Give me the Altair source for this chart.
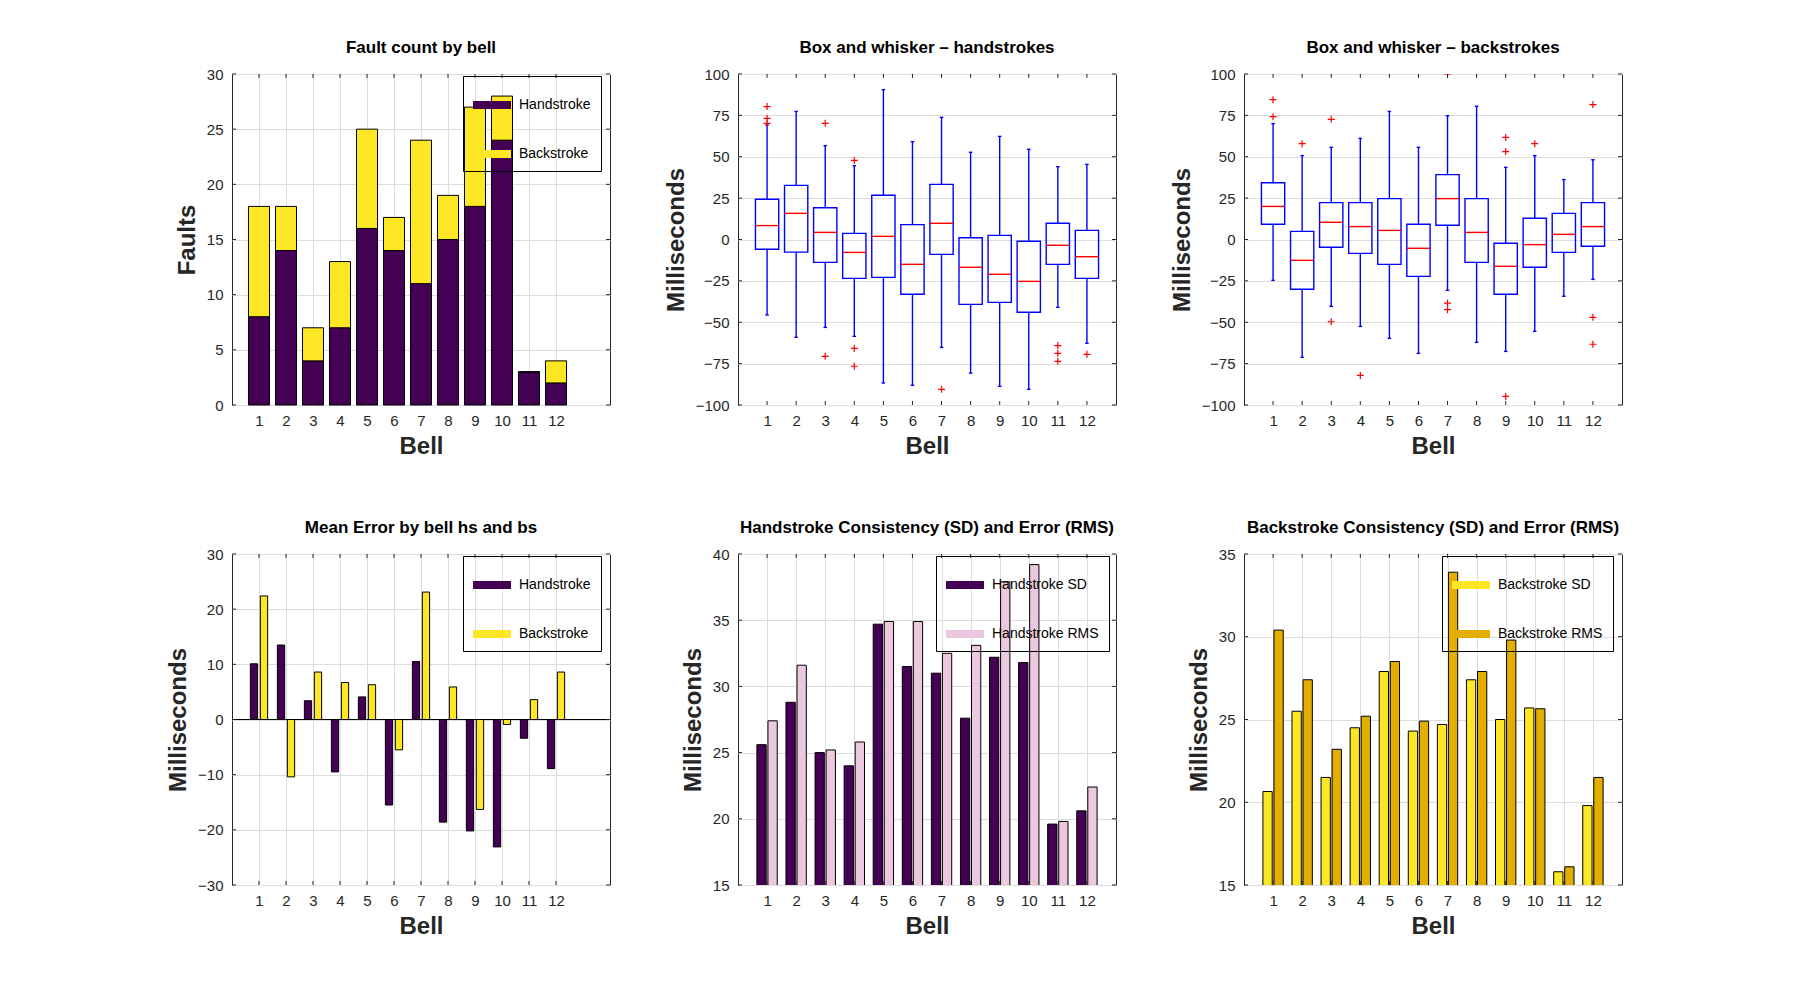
import altair as alt
import pandas as pd

FONT = "Liberation Sans"
AX = "#262626"
W, H = 378, 331
TL = 4

bells = list(range(1, 13))

# fault count (stacked)
fault_hs = [8, 14, 4, 7, 16, 14, 11, 15, 18, 24, 3, 2]
fault_bs = [10, 4, 3, 6, 9, 3, 13, 4, 9, 4, 0, 2]

# box and whisker stats, handstrokes
hs_wlo = [-45.6, -59.1, -53.1, -58.5, -86.7, -88.1, -65.2, -80.7, -88.7, -90.5, -41.0, -62.7]
hs_q1 = [-5.9, -7.6, -13.8, -23.5, -22.9, -33.1, -9.0, -39.2, -38.0, -44.0, -15.0, -23.5]
hs_med = [8.4, 15.8, 4.3, -7.8, 1.9, -15.0, 9.8, -16.8, -21.0, -25.3, -3.5, -10.4]
hs_q3 = [24.3, 32.7, 19.2, 3.7, 26.7, 9.0, 33.3, 1.1, 2.5, -1.1, 9.8, 5.5]
hs_whi = [69.2, 77.4, 56.7, 44.6, 90.5, 59.1, 73.8, 52.7, 62.3, 54.5, 44.0, 45.4]
hs_out_bell = [1, 1, 1, 3, 3, 4, 4, 4, 7, 11, 11, 11, 12]
hs_out_val = [80.3, 73.2, 70.2, 70.2, -70.6, 47.8, -65.8, -76.6, -90.5, -64.1, -68.8, -73.6, -69.4]

# box and whisker stats, backstrokes
bs_wlo = [-24.7, -71.2, -40.4, -52.5, -59.7, -68.8, -30.7, -62.1, -67.6, -55.5, -34.3, -24.1]
bs_q1 = [9.2, -30.1, -4.7, -8.4, -15.0, -22.3, 8.6, -13.8, -33.1, -16.8, -7.8, -4.1]
bs_med = [20.0, -12.6, 10.4, 7.8, 5.5, -5.3, 24.7, 4.3, -16.2, -3.1, 3.1, 7.8]
bs_q3 = [34.3, 4.9, 22.3, 22.3, 24.7, 9.2, 39.2, 24.7, -2.3, 12.8, 15.8, 22.3]
bs_whi = [70.0, 50.7, 55.7, 61.1, 77.4, 55.7, 74.8, 80.5, 43.6, 50.7, 36.2, 48.2]
bs_out_bell = [1, 1, 2, 3, 3, 4, 7, 7, 7, 9, 9, 9, 10, 12, 12, 12]
bs_out_val = [84.5, 74.2, 57.9, 72.6, -49.7, -82.1, 100.0, -38.4, -42.4, 61.7, 53.1, -94.8, 57.9, 81.5, -47.0, -63.3]

# mean error
mean_hs = [10.1, 13.5, 3.4, -9.5, 4.1, -15.5, 10.5, -18.6, -20.2, -23.1, -3.4, -8.9]
mean_bs = [22.4, -10.4, 8.6, 6.7, 6.3, -5.5, 23.1, 5.9, -16.3, -0.9, 3.6, 8.6]

# consistency / error
hs_sd = [25.6, 28.8, 25.0, 24.0, 34.7, 31.5, 31.0, 27.6, 32.2, 31.8, 19.6, 20.6]
hs_rms = [27.4, 31.6, 25.2, 25.8, 34.9, 34.9, 32.5, 33.1, 37.9, 39.2, 19.8, 22.4]
bs_sd = [20.65, 25.5, 21.5, 24.5, 27.9, 24.3, 24.7, 27.4, 25.0, 25.7, 15.8, 19.8]
bs_rms = [30.4, 27.4, 23.2, 25.2, 28.5, 24.9, 33.9, 27.9, 29.8, 25.65, 16.1, 21.5]

PURPLE = "#440154"
YELLOW = "#fde725"
PINK = "#ebc8dd"
GOLD = "#e3ae00"


def scale(dom):
    return alt.Scale(domain=dom, nice=False, zero=False)


def title(text):
    return alt.TitleParams(text, fontSize=17, fontWeight="bold", font=FONT, color="black",
                           offset=10, anchor="middle", frame="group")


def xaxis(grid):
    return alt.Axis(values=bells, tickCount=len(bells), grid=grid, title="Bell", format="d",
                    labelOverlap=False, labelPadding=8, titlePadding=6)


def yaxis(ticks, name):
    return alt.Axis(values=ticks, tickCount=len(ticks), grid=True, title=name, format="d",
                    labelOverlap=False, labelPadding=9, titlePadding=7)


def legend(x, y):
    return alt.Legend(title=None, orient="none", legendX=x, legendY=y,
                      strokeColor="black", padding=10, rowPadding=23,
                      symbolType="M-1,-0.21H1V0.21H-1Z", symbolSize=1444,
                      symbolStrokeWidth=0, labelOffset=8, labelFont=FONT,
                      labelFontSize=14, labelColor="black")


def frame_ticks(xs, ys, yticks):
    # small inward ticks on all four sides of the box
    tx = alt.Chart(pd.DataFrame({"t": bells}))
    ty = alt.Chart(pd.DataFrame({"t": yticks}))
    r = dict(color=AX, strokeWidth=1)
    return [
        tx.mark_rule(**r).encode(x=alt.X("t:Q", scale=xs), y=alt.value(0), y2=alt.value(TL)),
        tx.mark_rule(**r).encode(x=alt.X("t:Q", scale=xs), y=alt.value(H), y2=alt.value(H - TL)),
        ty.mark_rule(**r).encode(y=alt.Y("t:Q", scale=ys), x=alt.value(0), x2=alt.value(TL)),
        ty.mark_rule(**r).encode(y=alt.Y("t:Q", scale=ys), x=alt.value(W), x2=alt.value(W - TL)),
    ]


# ---- panel 1: fault count ----
def fault_panel():
    xs, ys = scale([0, 14]), scale([0, 30])
    yt = [0, 5, 10, 15, 20, 25, 30]
    df = pd.DataFrame({
        "bell": bells * 2,
        "lo": [0] * 12 + fault_hs,
        "hi": fault_hs + [h + b for h, b in zip(fault_hs, fault_bs)],
        "stroke1": ["Handstroke"] * 12 + ["Backstroke"] * 12,
    })
    bars = alt.Chart(df).transform_calculate(
        x0="datum.bell - 0.39", x1="datum.bell + 0.39"
    ).mark_rect(stroke="black", strokeWidth=1).encode(
        x=alt.X("x0:Q", scale=xs, axis=xaxis(True)),
        x2="x1:Q",
        y=alt.Y("lo:Q", scale=ys, axis=yaxis(yt, "Faults")),
        y2="hi:Q",
        color=alt.Color("stroke1:N", scale=alt.Scale(domain=["Handstroke", "Backstroke"],
                                                     range=[PURPLE, YELLOW]),
                        legend=legend(231, 2)),
    )
    return alt.layer(bars, *frame_ticks(xs, ys, yt)).properties(
        width=W, height=H, title=title("Fault count by bell"))


# ---- panels 2/3: box and whisker ----
def box_panel(name, wlo, q1, med, q3, whi, ob, ov):
    xs, ys = scale([0, 13]), scale([-100, 100])
    yt = list(range(-100, 101, 25))
    df = pd.DataFrame({"bell": bells, "wlo": wlo, "q1": q1, "med": med, "q3": q3, "whi": whi})
    base = alt.Chart(df).transform_calculate(
        x0="datum.bell - 0.4", x1="datum.bell + 0.4",
        c0="datum.bell - 0.06", c1="datum.bell + 0.06")
    blue = dict(color="#0000ff", strokeWidth=1.4)
    X = lambda f: alt.X(f, scale=xs)
    Y = lambda f: alt.Y(f, scale=ys)
    w_lo = base.mark_rule(**blue).encode(
        x=alt.X("bell:Q", scale=xs, axis=xaxis(False)),
        y=alt.Y("wlo:Q", scale=ys, axis=yaxis(yt, "Milliseconds")), y2="q1:Q")
    w_hi = base.mark_rule(**blue).encode(x=X("bell:Q"), y=Y("q3:Q"), y2="whi:Q")
    cap_lo = base.mark_rule(**blue).encode(x=X("c0:Q"), x2="c1:Q", y=Y("wlo:Q"))
    cap_hi = base.mark_rule(**blue).encode(x=X("c0:Q"), x2="c1:Q", y=Y("whi:Q"))
    box = base.mark_rect(filled=False, **blue).encode(x=X("x0:Q"), x2="x1:Q", y=Y("q1:Q"), y2="q3:Q")
    mid = base.mark_rule(color="#ff0000", strokeWidth=1.4).encode(x=X("x0:Q"), x2="x1:Q", y=Y("med:Q"))
    out = alt.Chart(pd.DataFrame({"bell": ob, "val": ov})).mark_point(
        shape="M-1,0H1M0,-1V1", size=49, filled=False, color="#ff0000",
        strokeWidth=1.2, opacity=1, clip=True
    ).encode(x=X("bell:Q"), y=Y("val:Q"))
    return alt.layer(w_lo, w_hi, cap_lo, cap_hi, box, mid, out, *frame_ticks(xs, ys, yt)).properties(
        width=W, height=H, title=title(name))


# ---- panels 4/5/6: grouped bars ----
def grouped_panel(name, a, b, labels, colors, ydom, yt, lx, ly, inner, outer, field, zero_line=False):
    xs, ys = scale([0, 14] if zero_line else [0, 13]), scale(ydom)
    df = pd.DataFrame({
        "bell": bells * 2,
        "v": a + b,
        "k": [0] * 12 + [1] * 12,
        field: [labels[0]] * 12 + [labels[1]] * 12,
    })
    bars = alt.Chart(df).transform_calculate(
        x0=f"datum.k == 0 ? datum.bell - {outer} : datum.bell + {inner}",
        x1=f"datum.k == 0 ? datum.bell - {inner} : datum.bell + {outer}",
        base="0",
    ).mark_rect(stroke="black", strokeWidth=1, clip=True).encode(
        x=alt.X("x0:Q", scale=xs, axis=xaxis(True)),
        x2="x1:Q",
        y=alt.Y("v:Q", scale=ys, axis=yaxis(yt, "Milliseconds")),
        y2="base:Q",
        color=alt.Color(f"{field}:N", scale=alt.Scale(domain=labels, range=colors),
                        legend=legend(lx, ly)),
    )
    layers = [bars]
    if zero_line:
        layers.append(alt.Chart(pd.DataFrame({"z": [0]})).mark_rule(color="black", strokeWidth=1).encode(
            y=alt.Y("z:Q", scale=ys)))
    return alt.layer(*layers, *frame_ticks(xs, ys, yt)).properties(
        width=W, height=H, title=title(name))


p1 = fault_panel()
p2 = box_panel("Box and whisker \u2013 handstrokes", hs_wlo, hs_q1, hs_med, hs_q3, hs_whi,
               hs_out_bell, hs_out_val)
p3 = box_panel("Box and whisker \u2013 backstrokes", bs_wlo, bs_q1, bs_med, bs_q3, bs_whi,
               bs_out_bell, bs_out_val)
p4 = grouped_panel("Mean Error by bell hs and bs", mean_hs, mean_bs, ["Handstroke", "Backstroke"],
                   [PURPLE, YELLOW], [-30, 30], [-30, -20, -10, 0, 10, 20, 30], 231, 2,
                   0.05, 0.32, "stroke4", zero_line=True)
p5 = grouped_panel("Handstroke Consistency (SD) and Error (RMS)", hs_sd, hs_rms,
                   ["Handstroke SD", "Handstroke RMS"], [PURPLE, PINK], [15, 40],
                   [15, 20, 25, 30, 35, 40], 198, 2, 0.03, 0.35, "stroke5")
p6 = grouped_panel("Backstroke Consistency (SD) and Error (RMS)", bs_sd, bs_rms,
                   ["Backstroke SD", "Backstroke RMS"], [YELLOW, GOLD], [15, 35],
                   [15, 20, 25, 30, 35], 198, 2, 0.03, 0.35, "stroke6")

chart = alt.concat(
    p1, p2, p3, p4, p5, p6, columns=3,
    spacing={"row": 149, "column": 128}, bounds="flush",
).resolve_scale(
    color="independent"
).properties(
    padding={"left": 158, "top": 30, "right": 20, "bottom": 20},
    background="white",
).configure_view(
    stroke=AX, strokeWidth=1
).configure_axis(
    labelFont=FONT, titleFont=FONT, labelFontSize=15, titleFontSize=24,
    titleFontWeight="bold", labelColor=AX, titleColor=AX,
    gridColor="#dcdcdc", gridWidth=1, domain=False, ticks=False, tickSize=0,
    labelFlush=False, labelOverlap=False,
)

chart.save("out.html", embed_options={"renderer": "svg", "actions": False})
